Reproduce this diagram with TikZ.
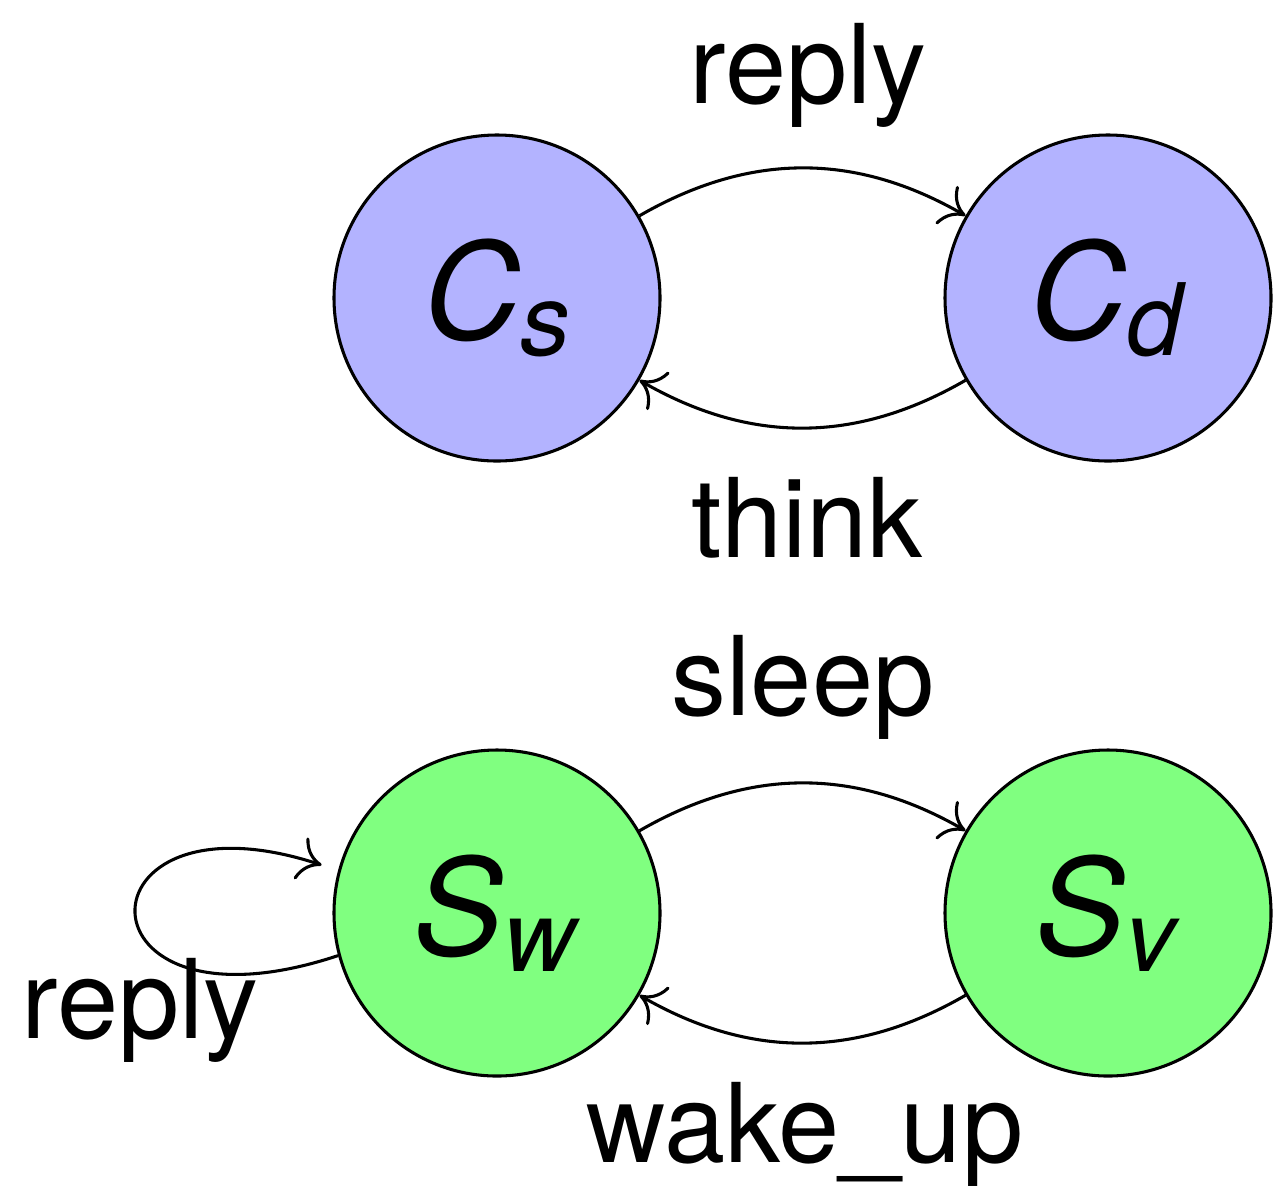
\documentclass[tikz,border=0pt]{standalone}
\usepackage{fontspec}
\setmainfont{TeX Gyre Heros}
\usetikzlibrary{arrows.meta}

\newcommand{\stlabel}[2]{\textit{#1}\raisebox{-12pt}{\fontsize{75}{90}\selectfont\textit{#2}}}

\tikzset{every picture/.style={line width=2.3pt}}
\tikzset{
  stnode/.style={circle, draw, minimum size=244.5pt, inner sep=0pt, font=\fontsize{101}{120}\selectfont},
  clnode/.style={stnode, fill={rgb, 255:red, 179; green, 179; blue, 255 }, fill opacity=1},
  srvnode/.style={stnode, fill={rgb, 255:red, 128; green, 255; blue, 128 }, fill opacity=1},
  lbl/.style={inner sep=0pt, anchor=base, font=\fontsize{82.5}{99}\selectfont},
  trans/.style={-{Computer Modern Rightarrow[length=17pt,width=33pt]}},
}

\begin{document}
\begin{tikzpicture}[x=0.75pt,y=0.75pt,yscale=-1,xscale=1]
\useasboundingbox (0,0) rectangle (1273,1190);

%Shape: Circle (client states)
\node [clnode] (cs) at (497,298) {\stlabel{C}{s}};
\node [clnode] (cd) at (1108,298) {\stlabel{C}{d}};

%Shape: Circle (server states)
\node [srvnode] (sw) at (497,913) {\stlabel{S}{w}};
\node [srvnode] (sv) at (1108,913) {\stlabel{S}{v}};

%Curve Lines (y axis is flipped, so bend right draws above)
\draw [trans] (cs) to [bend right=30] (cd);
\draw [trans] (cd) to [bend right=30] (cs);
\draw [trans] (sw) to [bend right=30] (sv);
\draw [trans] (sv) to [bend right=30] (sw);

%Curve Lines: self loop on sw
\draw [trans, shorten >=13pt] (sw.195) .. controls (69,1045) and (72,783) .. (sw.165);

% Text Node
\node [lbl] (lreply) at (808,103) {reply};
\node [lbl] (lthink) at (807,557) {think};
\node [lbl] (lsleep) at (803,715) {sleep};
\node [lbl] (lwake) at (805,1162) {wake\_up};
\node [lbl] (lloop) at (140,1038) {reply};

\end{tikzpicture}
\end{document}
